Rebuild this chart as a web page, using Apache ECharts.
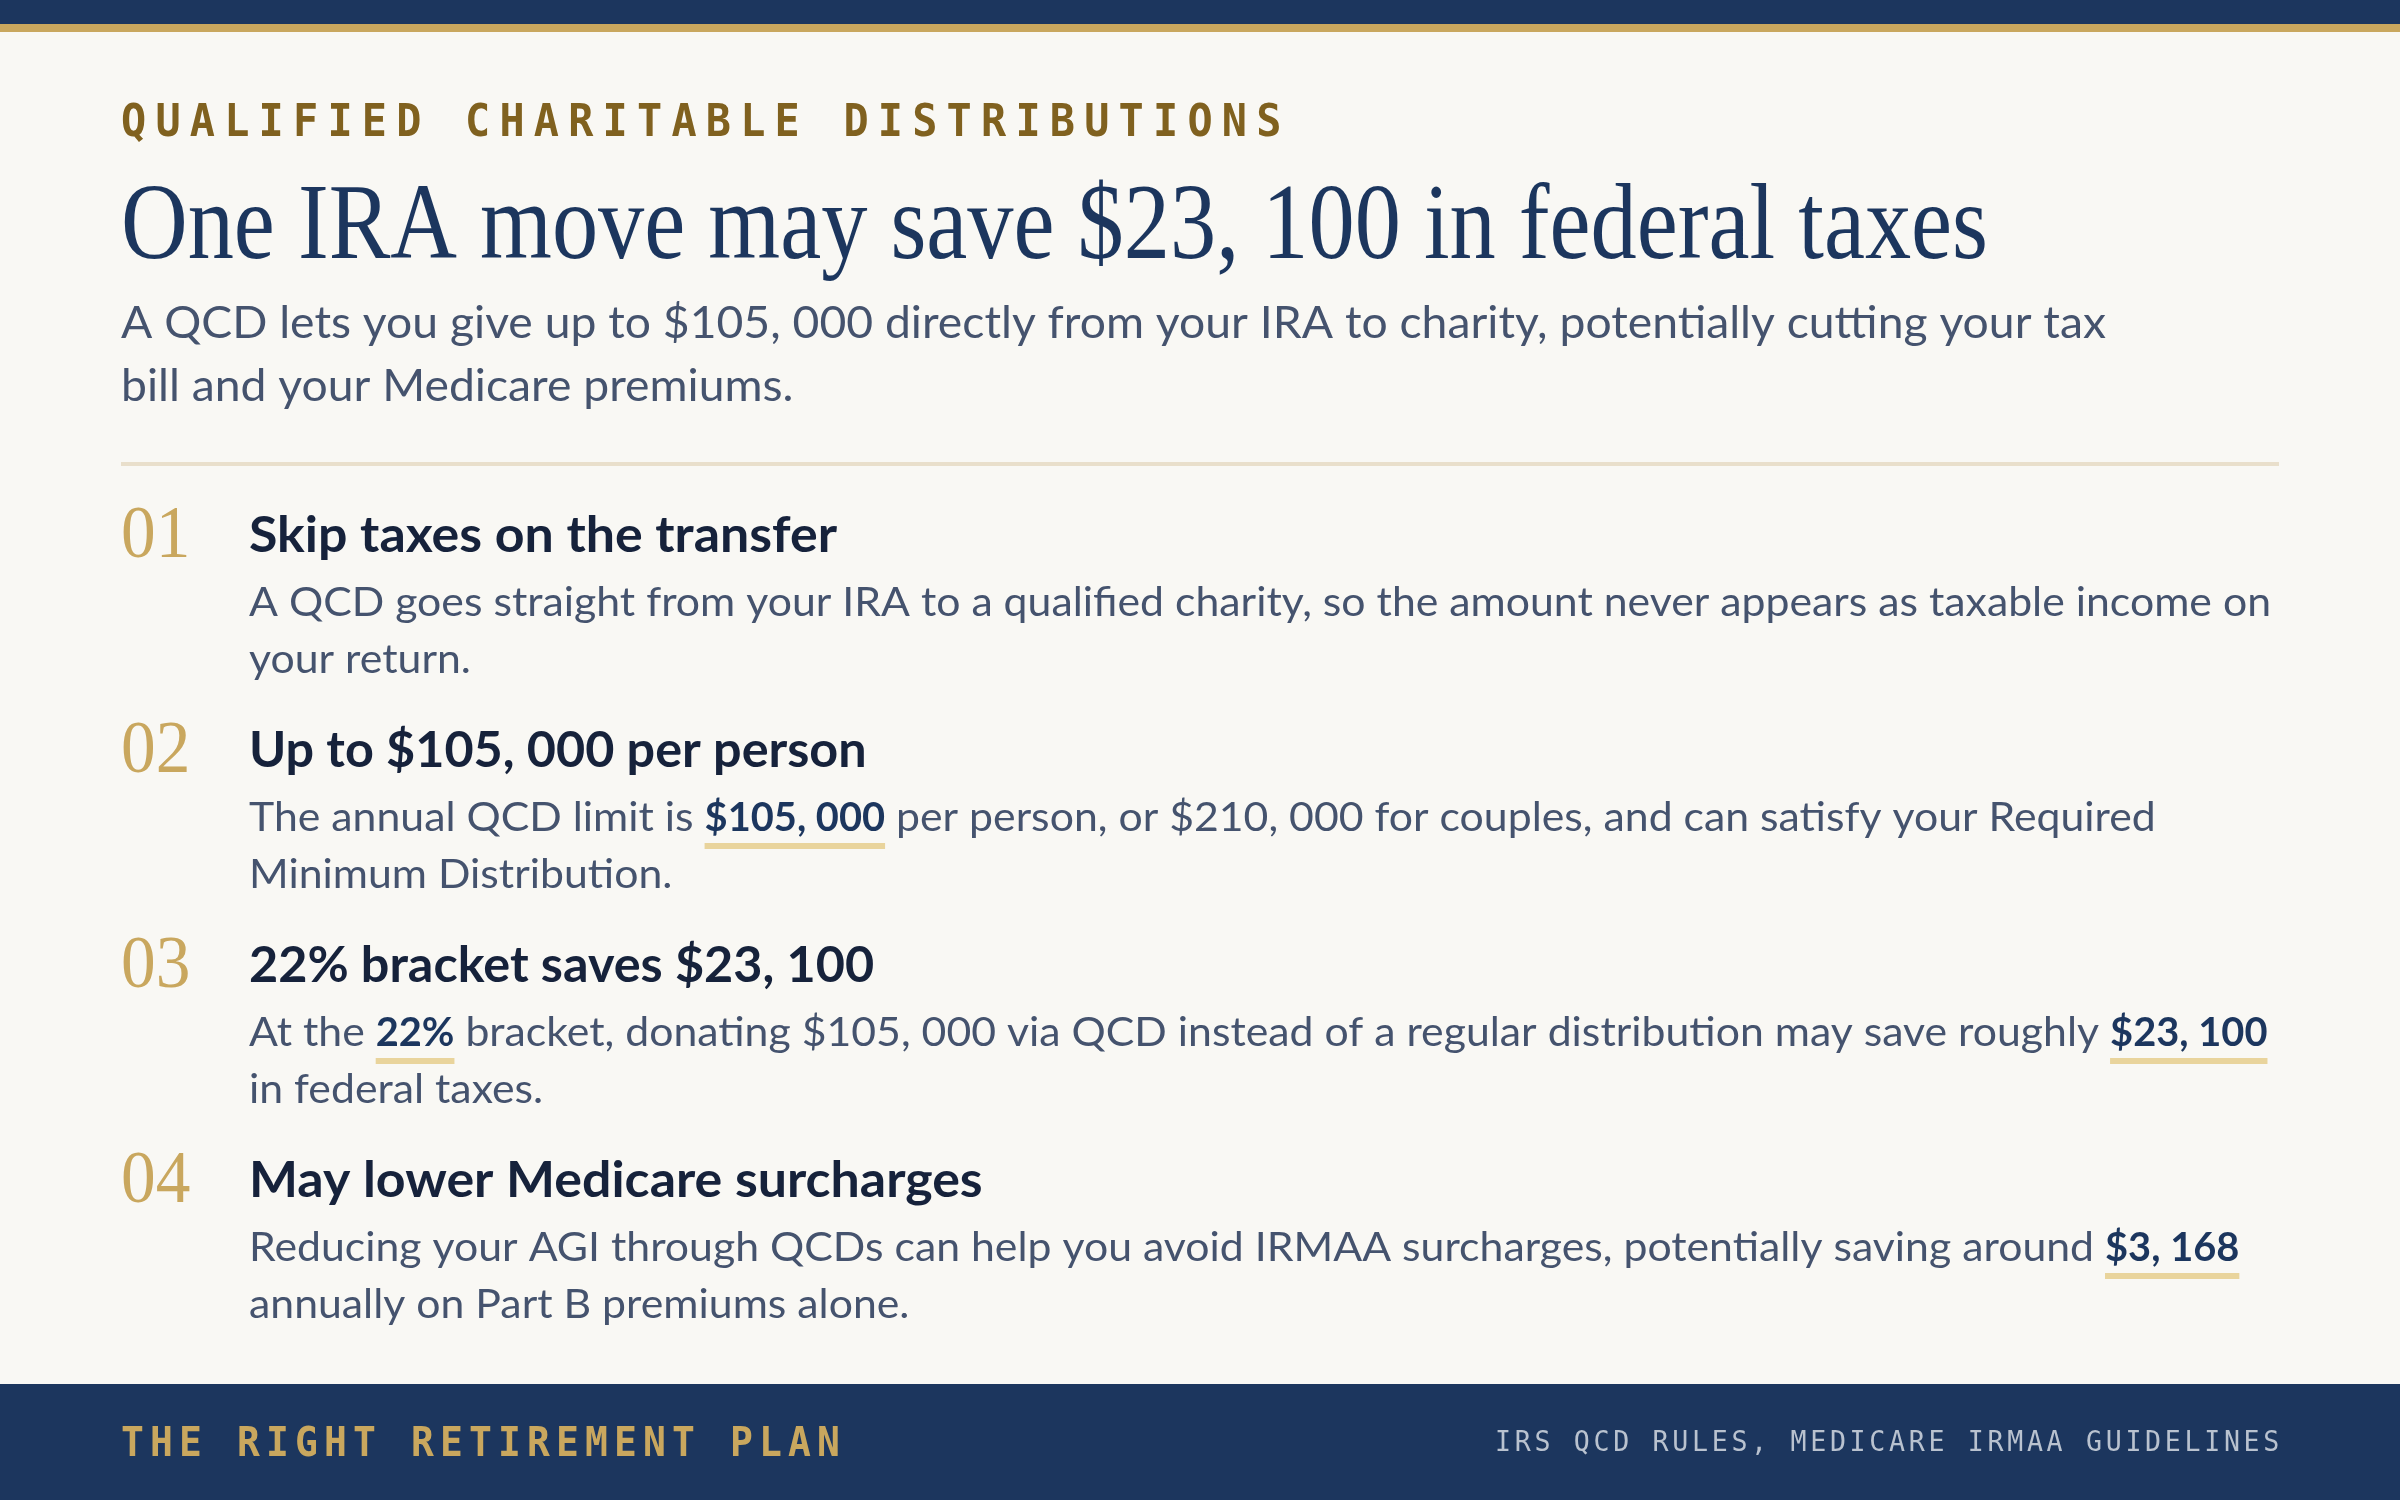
<!DOCTYPE html>
<html>
<head>
<meta charset="utf-8">
<title>Qualified Charitable Distributions</title>
<script src="https://cdn.jsdelivr.net/npm/echarts@6/dist/echarts.min.js"></script>
<style>
  html, body { margin: 0; height: 100%; background: #f9f8f4; }
  #main { width: 100%; height: 100%; }
</style>
</head>
<body>
<div id="main"></div>
<script>
// 文字数据
var eyebrow = 'QUALIFIED CHARITABLE DISTRIBUTIONS';
var headline = 'One IRA move may save $23, 100 in federal taxes';
var intro = [
    'A QCD lets you give up to $105, 000 directly from your IRA to charity, potentially cutting your tax',
    'bill and your Medicare premiums.'
];
var stepNums = ['01', '02', '03', '04'];
var stepTitles = [
    'Skip taxes on the transfer',
    'Up to $105, 000 per person',
    '22% bracket saves $23, 100',
    'May lower Medicare surcharges'
];
// ** ** 之间是加粗并带下划线的数字
var stepLines = [
    ['A QCD goes straight from your IRA to a qualified charity, so the amount never appears as taxable income on',
     'your return.'],
    ['The annual QCD limit is **$105, 000** per person, or $210, 000 for couples, and can satisfy your Required',
     'Minimum Distribution.'],
    ['At the **22%** bracket, donating $105, 000 via QCD instead of a regular distribution may save roughly **$23, 100**',
     'in federal taxes.'],
    ['Reducing your AGI through QCDs can help you avoid IRMAA surcharges, potentially saving around **$3, 168**',
     'annually on Part B premiums alone.']
];
var brand = 'THE RIGHT RETIREMENT PLAN';
var source = 'IRS QCD RULES, MEDICARE IRMAA GUIDELINES';

(function () {
    var navy = '#1c365e', gold = '#c9a75e', darkGold = '#80611f';
    var slate = '#45536e', ink = '#16223b', line = '#e9dfcb', mark = '#e9d49c';
    var SANS = 'Lato', SERIF = '"Liberation Serif"', MONO = '"DejaVu Sans Mono"';
    // middle 到基线的距离（em），按画面校正过
    var OFF = { sans: 0.30, serif: 0.27, mono: 0.28 };

    var ctx = document.createElement('canvas').getContext('2d');
    function measure(str, font) {
        ctx.font = font;
        return ctx.measureText(str).width;
    }
    function font(weight, size, family) {
        return weight + ' ' + size + 'px ' + family;
    }

    var under = [];
    var els = [];
    function addText(str, x, base, f, size, off, color, sx) {
        els.push({
            type: 'text', x: x, y: base - off * size, scaleX: sx || 1, silent: true, z: 10,
            style: { text: str, font: f, fill: color, textAlign: 'left', textVerticalAlign: 'middle' }
        });
    }
    // 等宽字母逐个摆放，模拟字间距
    function spaced(str, x0, base, f, size, adv, color, sx) {
        for (var i = 0; i < str.length; i++) {
            if (str[i] === ' ') continue;
            addText(str[i], x0 + i * adv, base, f, size, OFF.mono, color, sx);
        }
    }
    // 一行正文，** 段落加粗加下划线
    function richLine(str, x0, base, size, sx) {
        var parts = str.split('**');
        var cx = x0;
        parts.forEach(function (p, k) {
            if (!p) return;
            var bold = k % 2 === 1;
            var f = font(bold ? 'bold' : 'normal', size, SANS);
            var s = bold ? sx * 0.93 : sx;
            var w = measure(p, f) * s;
            addText(p, cx, base, f, size, OFF.sans, bold ? navy : slate, s);
            if (bold) {
                under.push({
                    type: 'rect', silent: true, z: 5,
                    shape: { x: cx, y: base + 13, width: w, height: 6 },
                    style: { fill: mark }
                });
            }
            cx += w;
        });
    }

    // 背景条
    var bars = [
        { type: 'rect', shape: { x: 0, y: 0, width: 2400, height: 24 }, style: { fill: navy } },
        { type: 'rect', shape: { x: 0, y: 24, width: 2400, height: 8 }, style: { fill: gold } },
        { type: 'rect', shape: { x: 121, y: 462, width: 2158, height: 4 }, style: { fill: line } },
        { type: 'rect', shape: { x: 0, y: 1384, width: 2400, height: 116 }, style: { fill: navy } }
    ];

    // 小标题
    spaced(eyebrow, 121, 137, font('bold', 44, MONO), 44, 34.4, darkGold, 0.95);

    // 大标题
    var hf = font('normal', 108, SERIF);
    addText(headline, 121, 259, hf, 108, OFF.serif, navy, 1867 / measure(headline, hf));

    // 导语
    var introF = font('normal', 44, SANS);
    var introS = 1985 / measure(intro[0], introF);
    intro.forEach(function (t, i) {
        addText(t, 121, 337 + i * 63, introF, 44, OFF.sans, slate, introS);
    });

    // 四个要点
    var titleF = font('bold', 49, SANS);
    var titleS = 588 / measure(stepTitles[0], titleF);
    var bodyS = 2022 / measure(stepLines[0][0], font('normal', 41, SANS));
    var numF = font('normal', 73, SERIF);
    stepNums.forEach(function (n, i) {
        var tb = 551 + i * 215;
        addText(n, 121, tb + 7, numF, 73, OFF.serif, gold, 0.95);
        // 数字多的标题稍收窄
        var ts = /\d/.test(stepTitles[i]) ? titleS * 0.97 : titleS;
        addText(stepTitles[i], 249, tb, titleF, 49, OFF.sans, ink, ts);
        stepLines[i].forEach(function (t, j) {
            richLine(t, 249, tb + 64 + j * 57, 41, bodyS);
        });
    });

    // 页脚
    spaced(brand, 121, 1457, font('bold', 40, MONO), 40, 29, gold, 0.95);
    spaced(source, 1495, 1452, font('normal', 28, MONO), 28, 19.7, '#b9c2cf', 0.95);

    var myChart = echarts.init(document.getElementById('main'));
    myChart.setOption({
        backgroundColor: '#f9f8f4',
        graphic: { elements: bars.concat(under, els) }
    });
    window.addEventListener('resize', function () {
        myChart.resize();
    });
})();
</script>
</body>
</html>
